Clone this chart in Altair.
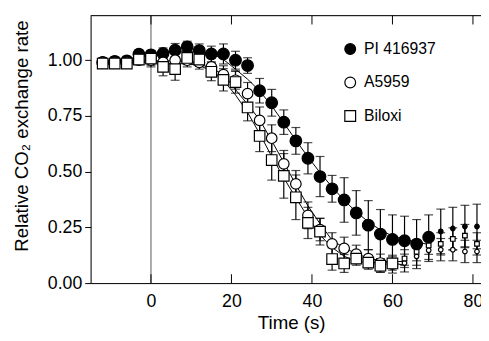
import altair as alt
import pandas as pd

# ---------------- data ----------------
times = [-12, -9, -6, -3, 0, 3, 6, 9, 12, 15, 18, 21, 24, 27, 30, 33,
         36, 39, 42, 45, 48, 51, 54, 57, 60, 63, 66, 69, 72, 75, 78, 81]

series_names = ["PI 416937", "A5959", "Biloxi"]

pi_vals = [0.99, 0.995, 0.997, 1.027, 1.024, 1.03, 1.045, 1.06, 1.043, 1.028, 1.028, 1.0,
           0.976, 0.863, 0.809, 0.722, 0.638, 0.56, 0.478, 0.423, 0.373, 0.315, 0.26, 0.22,
           0.196, 0.19, 0.175, 0.206, 0.232, 0.245, 0.254, 0.254]
pi_err = [0.02, 0.02, 0.02, 0.02, 0.02, 0.025, 0.03, 0.025, 0.03, 0.035, 0.045, 0.04,
          0.035, 0.055, 0.06, 0.055, 0.06, 0.07, 0.09, 0.06, 0.1, 0.1, 0.11, 0.11,
          0.11, 0.11, 0.11, 0.1, 0.1, 0.095, 0.095, 0.1]

a_vals = [0.99, 0.99, 0.99, 1.0, 1.0, 0.99, 1.0, 1.0, 0.99, 0.97, 0.935, 0.91,
          0.85, 0.73, 0.65, 0.535, 0.445, 0.304, 0.24, 0.176, 0.156, 0.13, 0.11, 0.09,
          0.085, 0.09, 0.12, 0.147, 0.15, 0.15, 0.142, 0.142]
a_err = [0.02, 0.02, 0.02, 0.02, 0.03, 0.03, 0.04, 0.03, 0.03, 0.04, 0.04, 0.04,
         0.05, 0.06, 0.06, 0.06, 0.06, 0.06, 0.05, 0.05, 0.05, 0.04, 0.04, 0.04,
         0.04, 0.04, 0.04, 0.05, 0.05, 0.05, 0.05, 0.05]

b_vals = [0.985, 0.985, 0.985, 1.003, 1.007, 0.97, 0.96, 1.01, 1.003, 0.948, 0.912, 0.902,
          0.788, 0.66, 0.552, 0.481, 0.385, 0.27, 0.231, 0.108, 0.088, 0.11, 0.092, 0.078,
          0.088, 0.11, 0.14, 0.169, 0.176, 0.198, 0.213, 0.176]
b_err = [0.02, 0.02, 0.02, 0.02, 0.03, 0.04, 0.05, 0.03, 0.03, 0.04, 0.05, 0.05,
         0.06, 0.07, 0.09, 0.1, 0.1, 0.07, 0.06, 0.05, 0.04, 0.03, 0.03, 0.03,
         0.03, 0.04, 0.04, 0.04, 0.05, 0.05, 0.05, 0.05]

x_ticks = [0, 20, 40, 60, 80]
y_ticks = [0, 0.25, 0.5, 0.75, 1.0]

# ---------------- table ----------------
rows = []
for name, vals, errs in zip(series_names, [pi_vals, a_vals, b_vals], [pi_err, a_err, b_err]):
    for t, v, e in zip(times, vals, errs):
        rows.append({"series": name, "t": t, "v": v, "lo": v - e, "hi": v + e})
df = pd.DataFrame(rows)

W, H = 397, 272
FONT = "Liberation Sans"

xs = alt.Scale(domain=[-15, 82], nice=False, zero=False)
ys = alt.Scale(domain=[0, 1.2], nice=False, zero=False)

x_axis = alt.Axis(values=x_ticks, ticks=False, tickSize=0, labelPadding=10, grid=False,
                  labelFontSize=18, titleFontSize=19, titlePadding=3, titleFontWeight="normal",
                  titleX=204,
                  domainColor="black", labelColor="black", titleColor="black")
y_axis = alt.Axis(values=y_ticks, format=".2f", tickSize=6, labelPadding=3, grid=False,
                  labelFontSize=18, titleFontSize=19, titlePadding=16, titleFontWeight="normal",
                  titleY=122,
                  domainColor="black", tickColor="black", labelColor="black", titleColor="black")

X_T = "Time (s)"
Y_T = "Relative CO₂ exchange rate"


def X(field="t"):
    return alt.X(f"{field}:Q", scale=xs, axis=x_axis, title=X_T)


def Y(field):
    return alt.Y(f"{field}:Q", scale=ys, axis=y_axis, title=Y_T)


base = alt.Chart(df)

zero_line = base.transform_filter("datum.t == 0 && datum.series == 'PI 416937'").mark_rule(
    color="#555", strokeWidth=1).encode(x=X())

top_border = alt.Chart(pd.DataFrame({"t": [0]})).mark_rule(color="black", strokeWidth=1).encode(
    x=alt.value(0), x2=alt.value(W), y=alt.value(0))

tick_df = pd.DataFrame({"t": x_ticks})
bottom_ticks = alt.Chart(tick_df).mark_rule(color="black", strokeWidth=1).encode(
    x=X(), y=alt.value(H), y2=alt.value(H - 9))
top_ticks = alt.Chart(tick_df).mark_rule(color="black", strokeWidth=1).encode(
    x=X(), y=alt.value(0), y2=alt.value(9))

curves = base.transform_filter(
    "(datum.series == 'PI 416937' && datum.t <= 69) || (datum.series != 'PI 416937' && datum.t <= 63)"
).transform_loess("t", "v", groupby=["series"], bandwidth=0.3).mark_line(
    color="black", strokeWidth=1).encode(x=X(), y=Y("v"), detail="series:N")

err_rules = base.mark_rule(color="black", strokeWidth=1.2).encode(x=X(), y=Y("lo"), y2="hi:Q")
cap_lo = base.mark_tick(orient="horizontal", size=9, thickness=1.2, color="black").encode(
    x=X(), y=Y("lo"))
cap_hi = base.mark_tick(orient="horizontal", size=9, thickness=1.2, color="black").encode(
    x=X(), y=Y("hi"))

legend = alt.Legend(orient="none", legendX=256, legendY=26, title=None, labelFontSize=16,
                    labelFont=FONT, labelColor="black", symbolSize=120,
                    symbolStrokeWidth=1.2, rowPadding=18, labelOffset=6, padding=0,
                    direction="vertical")

points = base.transform_calculate(
    msize="datum.t >= (datum.series == 'PI 416937' ? 72 : 63) ? 22 : (datum.series == 'PI 416937' ? 140 : 115)"
).mark_point(filled=False, strokeWidth=1.2, opacity=1).encode(
    x=X(),
    y=Y("v"),
    shape=alt.Shape("series:N", scale=alt.Scale(domain=series_names, range=["circle", "circle", "square"]),
                    legend=legend),
    fill=alt.Fill("series:N", scale=alt.Scale(domain=series_names, range=["black", "white", "white"]),
                  legend=legend),
    stroke=alt.Stroke("series:N", scale=alt.Scale(domain=series_names, range=["black", "black", "black"]),
                      legend=legend),
    size=alt.Size("msize:Q", scale=None, legend=None),
)

chart = alt.layer(zero_line, top_border, bottom_ticks, top_ticks, curves, err_rules, cap_lo, cap_hi, points).properties(
    width=W, height=H,
    autosize=alt.AutoSizeParams(type="none"),
    padding={"left": 84, "top": 5, "right": 0, "bottom": 48},
).configure_view(stroke=None).configure(font=FONT, background="white")

chart.save("out.html", embed_options={"renderer": "svg", "actions": False})
